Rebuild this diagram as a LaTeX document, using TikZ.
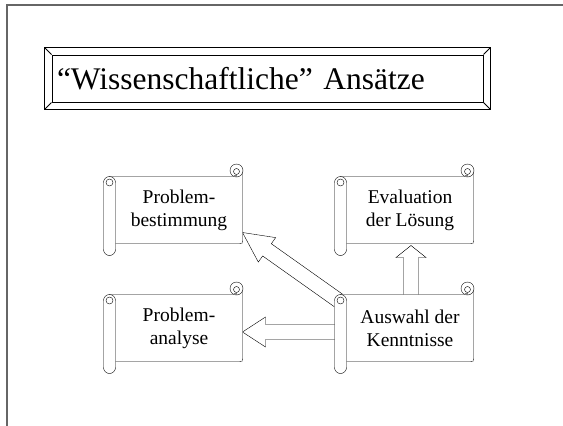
\documentclass[tikz,border=0pt]{standalone}
\usepackage{fontspec}
\setmainfont{Liberation Serif}
\usetikzlibrary{positioning,calc}
\pgfdeclarelayer{background}
\pgfsetlayers{background,main}

\newcommand{\blockarrow}[3]{%
  \coordinate (hb) at ($(#2)!#3!(#1)$);
  \draw[fill=white] ($(#1)!7.5pt!90:(#2)$) -- ($(hb)!7.5pt!90:(#2)$) -- ($(hb)!15pt!90:(#2)$) -- (#2)
    -- ($(hb)!15pt!-90:(#2)$) -- ($(hb)!7.5pt!-90:(#2)$) -- ($(#1)!7.5pt!-90:(#2)$);
}

\begin{document}
\begin{tikzpicture}[x=1pt, y=-1pt, line width=1pt,
  scroll/.style={minimum width=126pt, minimum height=66pt, inner sep=0pt, align=center, font=\fontsize{19.5}{23}\selectfont},
  frame/.style={draw=black!60, line width=1.6pt}]
\useasboundingbox (0,0) rectangle (563,426);
\draw[frame] (7,426) -- (7,5) -- (563,5);

% title
\node[draw, minimum height=47pt, text width=421pt, inner xsep=5pt, inner ysep=0pt, align=left,
  font=\fontsize{31.5}{38}\selectfont] (title) at (267.5,78.5) {“Wissenschaftliche” Ansätze};
\draw ($(title.north west)+(-7,-7)$) rectangle ($(title.south east)+(7,7)$);
\foreach \c/\dx/\dy in {north west/-7/-7, north east/7/-7, south east/7/7, south west/-7/7}
  \draw (title.\c) -- ++(\dx,\dy);

% scrolls
\node[scroll] (pb) at (179,210) {Problem-\\bestimmung};
\node[scroll, right=104pt of pb] (ev) {Evaluation\\der Lösung};
\node[scroll, below=51pt of pb] (pa) {Problem-\\analyse};
\node[scroll, right=104pt of pa] (aw) {Auswahl der\\Kenntnisse};

\coordinate (up tail) at ($(aw.north)+(1,0)$);
\coordinate (up tip) at ($(ev.south)+(1,2)$);
\coordinate (left tail) at ($(aw.west)+(-6,4)$);
\coordinate (left tip) at ($(pa.east)+(0,4)$);
\coordinate (diag tail) at ($(aw.north west)+(-8,6)$);
\coordinate (diag tip) at ($(pb.south east)+(0,-11)$);

\begin{pgfonlayer}{background}
\blockarrow{up tail}{up tip}{12pt}
\blockarrow{left tail}{left tip}{23pt}
\blockarrow{diag tail}{diag tip}{30pt}
\foreach \n in {pb,ev,pa,aw} {
  \draw[fill=white] ($(\n.north west)+(-6,0)$) -- ($(\n.north east)+(-6,0)$) -- ($(\n.north east)+(-6,-6)$)
    -- ($(\n.north east)+(0,-6)$) -- ($(\n.south east)+(0,-3)$) .. controls (\n.south east) .. ($(\n.south east)+(-3,0)$)
    -- ($(\n.south west)+(-6,0)$) -- cycle;
  \draw[fill=white] ($(\n.north east)+(-6,-6)$) circle (6.5pt);
  \draw ($(\n.north east)+(-6,-5)$) circle (3pt);
  \fill[black!50] ($(\n.north east)+(-9,-2)$) rectangle ($(\n.north east)+(-6,0)$);
  \draw[fill=white, rounded corners=6pt] ($(\n.north west)+(-12,0)$) rectangle ($(\n.south west)+(0,12)$);
  \draw ($(\n.north west)+(-6,6)$) circle (3.5pt);
}
\end{pgfonlayer}
\end{tikzpicture}
\end{document}
